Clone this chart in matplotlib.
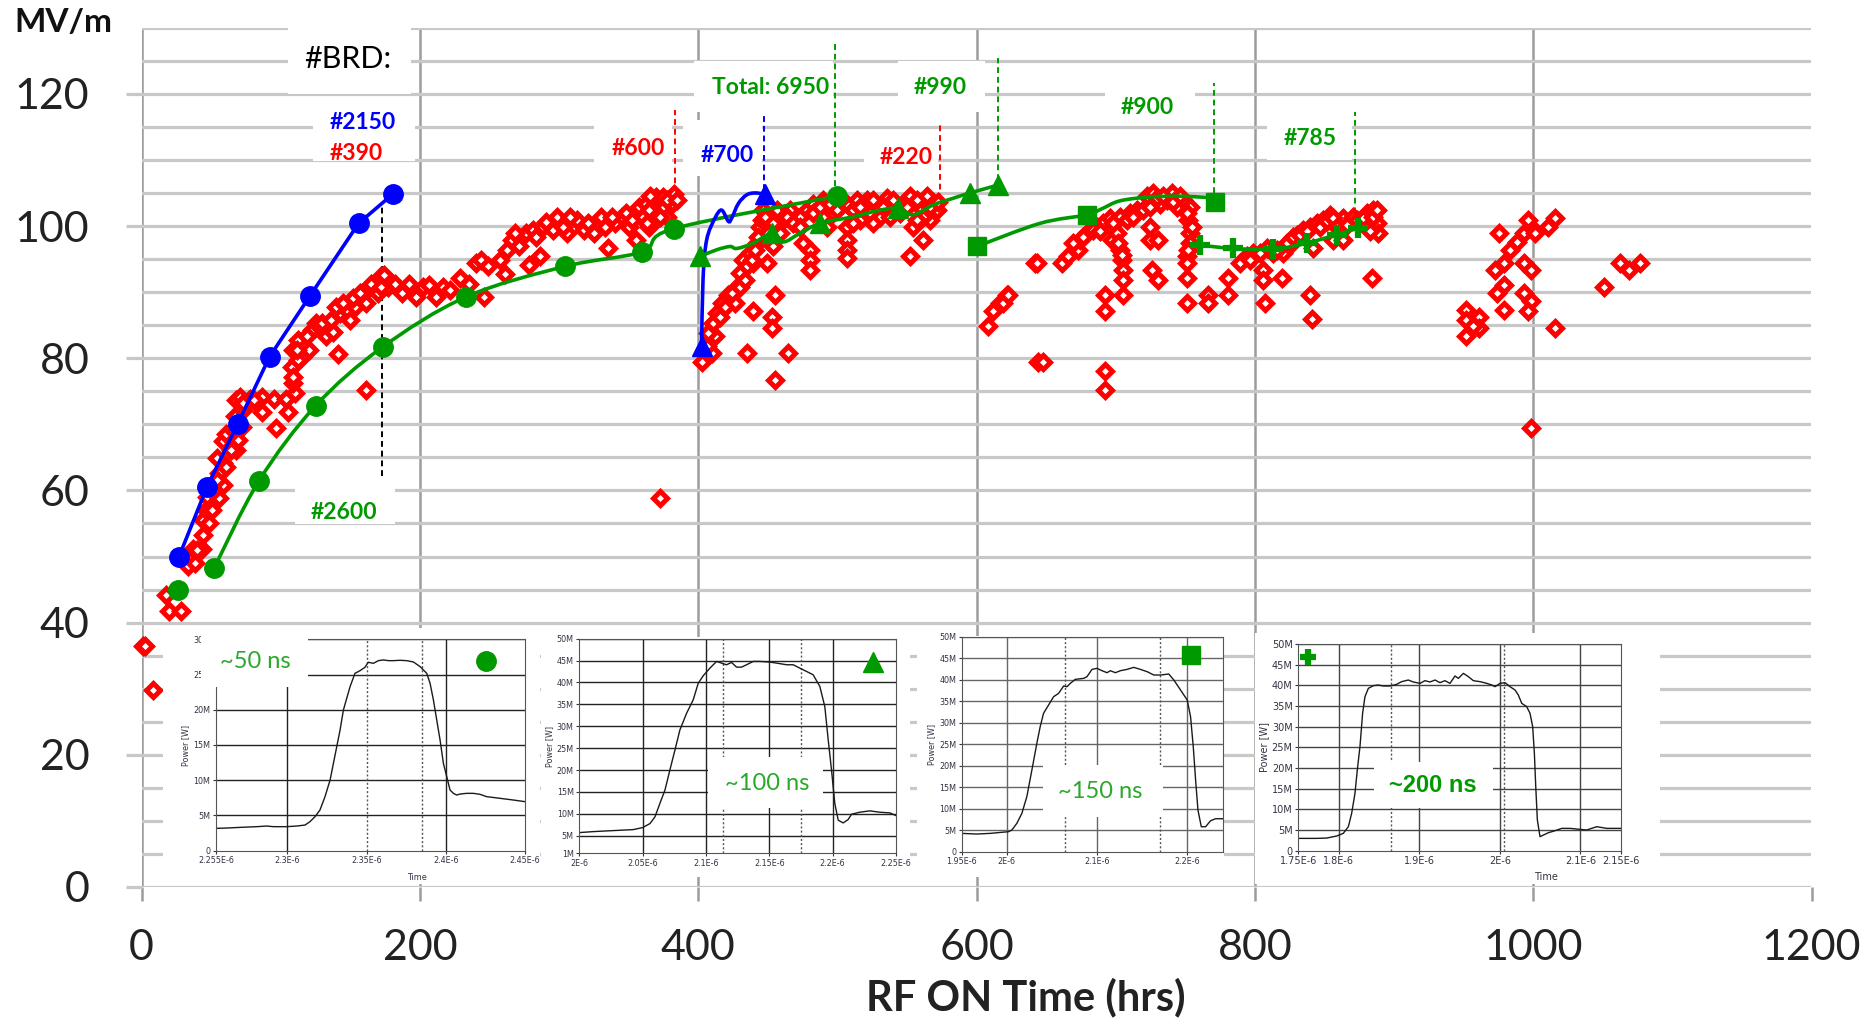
import numpy as np
import matplotlib.pyplot as plt
from matplotlib.path import Path
from matplotlib.patches import PathPatch, Rectangle
from matplotlib.ticker import MultipleLocator

W, H = 1865, 1031

RED = '#ff0000'
GREEN = '#009a00'
LGREEN = '#2aa82a'
BLUE = '#0000ff'

# ---------------- main chart data (RF ON hours, MV/m) ----------------
red_x = [1, 2.5, 8.5, 17.5, 19.5, 28.5, 33.5, 38.5, 37, 43.5, 44.5, 44.5, 46, 47, 55.8, 58.3, 55.8, 58.3,
         54.6, 58.3, 68.2, 69.4, 60.8, 67, 73.1, 68.2, 70.7, 78, 86.7, 86.7, 95.4, 96.6, 104, 105.3,
         110.3, 109, 107.8, 109, 112.7, 115.2, 120.1, 122.6, 127.6, 132.5, 137.5, 141.2, 142.4, 147.4,
         149.8, 153.5, 157.3, 162.2, 161, 167.2, 169.6, 172.1, 161, 177, 182, 187, 192, 197, 202,
         206.7, 211.7, 216.6, 221.6, 229, 235.2, 240.1, 243.8, 246.3, 248.8, 257.5, 261.2, 262.4,
         266.1, 271.1, 276, 278.5, 281, 286, 288.4, 295.8, 298.3, 305.7, 313.1, 318.1, 325.5, 330.4,
         335.4, 340.3, 345.3, 350.2, 355.2, 357.6, 362.6, 367.5, 370, 375, 381.2, 382.4, 372.5,
         39.7, 48.4, 50.9, 52.1, 54.6, 60.8, 64.5, 65.7, 71.9, 73.1, 80.6, 109, 112.7, 111.5, 118.9,
         125.1, 130, 136.2, 140, 145, 152.3, 157.3, 164.7, 172.1, 174.6,
         268.6, 283.4, 290.9, 303.2, 308.2, 320.5, 332.9, 337.9, 347.8, 352.7, 360.1, 365, 375,
         377.4, 365,
         365.4, 377.4, 384.5, 372.6, 363,
         402.5, 409.7, 412.1, 410.9, 413.3, 416.9, 421.7, 426.5, 427.7, 430, 432.4, 437.2, 439.6,
         442, 444.4, 446.8, 449.2, 451.6, 456.4, 461.2, 466, 458.8,
         434.8, 439.6, 452.8, 452.8, 455.2, 455.2, 464.8,
         473.2, 478, 482.7, 480.3, 480.3, 480.3, 489.9, 497.1, 506.7, 506.7, 506.7, 506.7, 506.7,
         511.5, 516.3, 521.1, 525.9, 530.6, 535.4, 540.2, 547.4, 552.2, 554.6, 559.4, 564.2, 566.6,
         561.8, 552.2, 569, 571.4, 501.9, 492.3, 513.9, 525.9, 540.2,
         608.5, 612.1, 616.9, 621.6, 642, 644.4,
         406.1, 407.3, 415.7, 419.3, 424.1, 430, 433.6, 434.8, 438.4, 440.8, 443.2, 445.6, 448,
         454, 463.6, 468.4, 454, 482.7, 487.5, 494.7, 499.5, 516.3, 523.4, 533, 537.8, 545, 549.8,
         557, 561.8, 566.6, 572.6, 557, 525.9, 511.5, 473.2, 475.6,
         619.3, 622.9, 643.2, 648, 661.2, 666, 673.2, 674.4, 679.2, 686.4, 691.1, 696, 703.1, 710.3,
         715.1, 722.3, 727.1, 731.9, 736.7, 740.2, 743.8, 748.6, 753.4, 752.2, 753.4,
         697.1, 703.1, 704.3, 705.5, 705.5, 705.5, 692.3, 692.3, 692.3, 692.3, 724.7, 730.7, 725.9,
         730.7, 724.7, 751, 751, 751, 751, 766.6, 766.6, 781, 781,
         669.6, 676.8, 684, 688.8, 698.3, 707.9, 712.7, 719.9, 724.7, 729.5, 734.3, 741.4, 746.2,
         751, 754.6, 700.7, 701.9, 704.3, 753.4, 752.2,
         789.3, 794.1, 798.9, 806.1, 806.1, 807.3, 808.5, 813.3, 819.3, 820.5, 825.3, 830.1, 834.9,
         839.6, 839.6, 840.8, 842, 844.4, 849.2, 854, 856.4, 863.6, 863.6, 870.8, 880.4, 885.1,
         887.5, 888.7, 882.8, 883.9,
         796.5, 803.7, 815.7, 822.9, 827.6, 832.5, 837.2, 846.8, 851.6, 856.4, 858.8, 866, 873.2,
         878, 885.1, 887.5,
         951.7, 951.7, 951.7, 961.3, 961.3, 956.5, 975.7, 972.5, 978.9, 983.7, 988.6, 993.4, 998.2,
         996.6, 1001.4, 1011, 1015.8, 974.1, 979, 979, 993.4, 998.2, 996.6, 993.4, 998.2, 1015.8,
         998.2, 1051.1, 1062.3, 1068.7, 1076.7]
red_y = [36.5, 36.4, 29.8, 44.2, 41.8, 41.8, 48.5, 49, 51.2, 51.2, 53.3, 55.5, 57, 59, 58.8, 60.8, 62.6, 64.1,
         64.9, 67.4, 66.1, 67.6, 68.6, 71.2, 72.2, 73.7, 74.2, 73.9, 74.2, 71.9, 73.9, 69.4, 73.9, 71.9,
         74.7, 76.2, 78.7, 81.2, 82.8, 80.2, 81.2, 84.3, 84.8, 83.3, 84, 80.7, 86.8, 87.3,
         85.8, 87.8, 89.3, 90.3, 88.3, 91.3, 89.8, 92.4, 75.2, 90.8, 91.3, 89.8, 91.3, 89.3, 90.8,
         91.1, 89.3, 90.8, 90.3, 92.1, 91.3, 94.4, 94.9, 89.3, 93.9, 94.9, 92.8, 96.4,
         97.9, 96.9, 98.9, 94.1, 99.4, 95.4, 99.9, 99.4, 101.4, 98.9, 100.9, 99.4, 98.9, 101.4,
         96.6, 100.4, 101.4, 99.9, 97.9, 102.9, 103.4, 100.9, 104.4, 104.4, 103.4, 104.9, 58.8,
         51, 55, 57, 60, 61.6, 63.6, 66.1, 69.1, 69.6, 73.2, 73.7, 77.2, 79.7, 81.2, 83.3,
         85.3, 85.3, 85.8, 87.8, 88.3, 89.1, 89.8, 91.3, 90.8, 92.6,
         98.9, 98.4, 100.6, 99.9, 101.4, 100.4, 99.9, 101.4, 101.9, 100.9, 101.4, 102.4, 102.7,
         101.4, 99.9,
         104.5, 103.9, 103.9, 101.4, 100.4,
         79.5, 80.8, 83.3, 85.3, 86.8, 88.3, 89.6, 88.3, 90.8, 92.9, 94.9, 95.9, 94.4,
         97.4, 99.9, 102.4, 94.4, 101.4, 102.4, 100.9, 102.4, 98.9,
         80.8, 87.1, 86.3, 84.5, 89.6, 76.7, 80.8,
         101.4, 102.4, 103.4, 96.4, 94.9, 93.4, 103.9, 101.9, 103.4, 99.9, 97.9, 96.4, 95.1,
         102.4, 100.9, 103.9, 102.4, 101.4, 104.2, 102.4, 103.4, 104.5, 99.9, 102.9, 104.5, 100.9,
         97.9, 95.4, 103.4, 102.4, 103.9, 99.9, 103.9, 103.9, 103.9,
         84.8, 87.1, 88.3, 89.6, 94.4, 79.5,
         81.8, 83.8, 86.3, 87.8, 89.8, 90.8, 91.8, 93.9, 94.9, 96.4, 98.4, 100.9, 101.4,
         100.4, 101.4, 100.4, 96.9, 101.9, 102.9, 103.4, 102.4, 102.9, 101.9, 102.9, 101.4, 101.9,
         102.9, 103.9, 101.4, 102.9, 103.7, 100.9, 100.4, 100.4, 99.9, 97.4,
         88.3, 89.6, 94.4, 79.5, 94.4, 95.4, 96.4, 97.9, 98.9, 99.9, 100.4, 101.2, 101.4, 101.9,
         102.4, 104.5, 105, 103.4, 103.9, 105, 102.9, 103.9, 102.9, 100.9, 98.9,
         97.9, 96.4, 94.9, 93.4, 91.8, 89.6, 89.6, 87.1, 78, 75.2, 97.9, 97.9, 93.4,
         91.8, 99.9, 95.4, 94.4, 92.1, 88.3, 89.6, 88.3, 92.1, 89.6,
         97.4, 98.4, 99.4, 99.2, 100.4, 100.9, 101.4, 102.4, 102.9, 104.2, 104.5, 103.7, 104.5,
         101.9, 99.9, 98.9, 97.4, 95.6, 97.4, 96.4,
         94.4, 95.4, 95.9, 93.4, 91.8, 88.3, 96.6, 95.9, 92.1, 95.9, 97.1, 98.7, 99.4,
         99.9, 89.6, 86, 96.6, 100.4, 100.9, 101.7, 97.9, 101.2, 97.9, 101.4, 101.9, 102.4,
         100.4, 98.9, 99.2, 92.1,
         94.9, 95.9, 96.4, 97.4, 98.4, 98.7, 99.2, 99.9, 100.7, 101.2, 99.9, 100.2, 100.9,
         101.2, 101.4, 102.4,
         87.3, 85.8, 83.3, 86.3, 84.5, 84.8, 98.9, 93.4, 94.4, 96.4, 97.6, 98.9, 99.9,
         100.9, 98.9, 99.9, 101.2, 89.8, 91.1, 87.3, 89.8, 88.6, 87.1, 94.4, 93.4, 84.5,
         69.4, 90.8, 94.4, 93.4, 94.4]

# 2150 breakdowns, circles (blue)
blue_c_x = [27, 47, 69, 92, 121, 156, 181]
blue_c_y = [50, 60.5, 70, 80.2, 89.4, 100.4, 104.9]

# 2600 breakdowns, circles (green)
green_c_x = [26.1, 52.1, 84.3, 125.1, 173.3, 233.5, 304.5, 359.6, 382.4, 499.5]
green_c_y = [44.9, 48.2, 61.4, 72.8, 81.7, 89.3, 93.9, 96.1, 99.6, 104.5]

# 700 breakdowns, triangles (blue), line has extra unmarked samples
blue_t_x = [402.5, 448]
blue_t_y = [81.8, 104.8]
blue_t_line_x = [402.5, 403.5, 406.1, 412.1, 416.9, 421.7, 424.1, 428.9, 434.8, 440.8, 448]
blue_t_line_y = [81.8, 92.0, 97.9, 101.2, 102.4, 100.7, 101.2, 103.4, 104.7, 105.0, 104.8]

# 990 breakdowns, triangles (green)
green_t_x = [401.3, 452.8, 487.5, 543.8, 595.3, 615.7]
green_t_y = [95.4, 98.9, 100.4, 102.7, 105.0, 106.2]
green_t_line_x = [401.3, 413.3, 422.9, 427.7, 439.6, 452.8, 461.2, 473.2, 487.5, 511.5, 530.6,
                  543.8, 554.6, 569, 583.3, 595.3, 615.7]
green_t_line_y = [95.4, 96.4, 96.9, 96.6, 97.4, 98.9, 97.6, 98.9, 100.4, 101.4, 102.4,
                  102.7, 101.7, 103.2, 104.2, 105.0, 106.2]

# 900 breakdowns, squares (green)
green_s_x = [600.1, 679.2, 771.4]
green_s_y = [96.9, 101.7, 103.7]
green_s_line_x = [600.1, 645.6, 679.2, 690, 703, 725, 750, 771.4]
green_s_line_y = [96.9, 100.4, 101.7, 102.6, 103.8, 104.4, 104.5, 104.2]

# 785 breakdowns, crosses (green)
green_p_x = [760.6, 784.5, 813.3, 837.2, 858.8, 874.4]
green_p_y = [97.1, 96.6, 96.5, 97.4, 98.7, 99.7]

# dashed markers: (x, y_from, y_to, colour)
dash_x = [173, 383.5, 447.5, 498.5, 574, 615.5, 770.5, 872.2]
dash_y0 = [62.2, 105.0, 105.5, 106.0, 102.5, 107.0, 105.0, 100.4]
dash_y1 = [103.6, 117.6, 117.1, 128.0, 115.3, 125.4, 121.6, 117.3]
dash_c = ['black', RED, BLUE, GREEN, RED, GREEN, GREEN, GREEN]

# ---------------- inset pulse traces (time 1e-6 s, power MW) ----------------
p1_t = [2.255, 2.2622, 2.2701, 2.2807, 2.287, 2.2912, 2.2996, 2.3059, 2.3112, 2.3143, 2.3175, 2.3206,
        2.3238, 2.327, 2.3291, 2.3312, 2.3333, 2.3354, 2.3375, 2.3396, 2.3427, 2.3459, 2.349, 2.3511,
        2.3543, 2.3575, 2.3606, 2.3638, 2.3669, 2.3711, 2.3753, 2.3796, 2.3838, 2.388, 2.3901, 2.3922,
        2.3943, 2.3964, 2.3985, 2.4006, 2.4027, 2.4048, 2.4069, 2.409, 2.4132, 2.4174, 2.4216, 2.4258,
        2.4343, 2.4427, 2.45]
p1_p = [3.17, 3.22, 3.31, 3.41, 3.5, 3.41, 3.41, 3.5, 3.64, 4.12, 4.83, 5.77,
        7.67, 10.03, 12.4, 14.76, 17.13, 19.97, 21.63, 23.28, 25.17, 25.55, 26.03, 26.74,
        26.59, 26.97, 27.07, 26.97, 26.97, 27.02, 26.97, 26.78, 26.12, 25.17, 23.75, 21.39,
        18.55, 15.71, 12.4, 10.51, 8.61, 8.14, 7.9, 8.04, 8.14, 8.14, 8.0, 7.67,
        7.43, 7.19, 6.96]

p2_t = [2.0, 2.011, 2.0216, 2.0321, 2.0426, 2.05, 2.0558, 2.0597, 2.0636, 2.0676, 2.0715, 2.0755,
        2.0794, 2.0847, 2.0899, 2.0939, 2.0978, 2.1031, 2.1084, 2.1123, 2.1162, 2.1202, 2.1241,
        2.1281, 2.132, 2.1373, 2.1425, 2.1504, 2.1557, 2.1636, 2.1688, 2.1741, 2.1794, 2.1846,
        2.1899, 2.1938, 2.1965, 2.1991, 2.2017, 2.2044, 2.2083, 2.2122, 2.2149, 2.2214, 2.2293,
        2.2372, 2.2451, 2.2499]
p2_p = [5.73, 5.95, 6.11, 6.26, 6.41, 6.87, 7.79, 9.31, 12.37, 15.42, 20.0, 24.58,
        29.16, 32.98, 36.03, 39.85, 41.53, 43.28, 44.81, 44.43, 44.05, 44.58, 43.51,
        43.51, 44.05, 44.81, 44.81, 44.66, 44.43, 44.05, 44.05, 43.28, 42.52, 41.76,
        39.08, 34.5, 26.87, 20.0, 12.37, 8.55, 7.94, 8.7, 9.92, 10.38, 10.69,
        10.38, 10.23, 9.62]

p3_t = [1.95, 1.9667, 1.9815, 2.0019, 2.0056, 2.0111, 2.0167, 2.0222, 2.0278, 2.0333, 2.037, 2.0407,
        2.0463, 2.0519, 2.0574, 2.063, 2.0667, 2.0704, 2.0759, 2.0852, 2.0889, 2.0944, 2.1, 2.1056,
        2.1111, 2.1148, 2.1204, 2.1259, 2.1333, 2.1407, 2.1481, 2.1556, 2.163, 2.1704, 2.1796,
        2.1852, 2.1926, 2.2, 2.2037, 2.2067, 2.2093, 2.2119, 2.2156, 2.2204, 2.2259, 2.2315, 2.2407]
p3_p = [4.26, 4.11, 4.26, 4.65, 5.04, 6.59, 8.91, 12.79, 18.99, 25.19, 29.07, 32.17,
        34.11, 36.05, 36.82, 38.53, 38.37, 39.15, 40.08, 40.31, 40.7, 42.4, 42.64, 42.09,
        41.63, 42.09, 41.63, 42.09, 42.4, 42.87, 42.4, 41.86, 41.09, 41.09, 41.32,
        39.92, 37.6, 35.27, 31.4, 24.42, 16.67, 9.69, 5.81, 5.81, 7.21, 7.67, 7.67]

p4_t = [1.75, 1.7728, 1.7852, 1.7976, 1.8058, 1.8121, 1.8162, 1.8203, 1.8232, 1.8265, 1.8298, 1.8327,
        1.8369, 1.8431, 1.8493, 1.8555, 1.8638, 1.872, 1.8782, 1.8865, 1.8927, 1.901, 1.9072, 1.9134,
        1.9196, 1.9258, 1.932, 1.9382, 1.9444, 1.9486, 1.9548, 1.961, 1.9672, 1.9755, 1.9838, 1.99,
        1.9941, 2.0003, 2.0065, 2.0127, 2.0189, 2.023, 2.0272, 2.0334, 2.0375, 2.0408, 2.0429,
        2.0446, 2.0466, 2.0499, 2.0541, 2.0603, 2.0686, 2.0768, 2.0872, 2.0996, 2.1078, 2.1202,
        2.1327, 2.15]
p4_p = [2.98, 2.98, 3.06, 3.55, 4.19, 5.81, 9.03, 13.87, 19.52, 25.16, 33.23, 37.26,
        39.27, 39.92, 40.08, 39.84, 39.84, 40.24, 40.89, 41.29, 40.81, 40.48, 41.13, 40.81,
        41.29, 40.65, 41.13, 40.48, 42.26, 41.69, 42.9, 42.1, 41.13, 40.89, 40.48, 40.08,
        39.68, 40.48, 40.65, 39.68, 38.87, 37.66, 35.65, 34.84, 33.23, 30.0, 23.55,
        15.48, 7.42, 3.39, 3.79, 4.35, 4.84, 5.4, 5.4, 5.16, 5.0, 5.81,
        5.4, 5.4]


def smooth_path(xs, ys):
    pts = np.column_stack([xs, ys]).astype(float)
    n = len(pts)
    verts = [pts[0]]
    codes = [Path.MOVETO]
    for i in range(n - 1):
        p0 = pts[max(i - 1, 0)]
        p1 = pts[i]
        p2 = pts[i + 1]
        p3 = pts[min(i + 2, n - 1)]
        verts += [p1 + (p2 - p0) / 6.0, p2 - (p3 - p1) / 6.0, p2]
        codes += [Path.CURVE4] * 3
    return Path(verts, codes)


def px_rect(x0, y0, x1, y1):
    return [x0 / W, 1 - y1 / H, (x1 - x0) / W, (y1 - y0) / H]


fig = plt.figure(figsize=(W / 100, H / 100), dpi=100)
fig.patch.set_facecolor('white')

ax = fig.add_axes(px_rect(141.5, 27.7, 1811.5, 887))
ax.set_xlim(0, 1200)
ax.set_ylim(0, 130)
ax.set_xticks(range(0, 1201, 200))
ax.set_yticks(range(0, 121, 20))
ax.yaxis.set_minor_locator(MultipleLocator(5))
ax.grid(True, axis='y', which='both', color='#c8c8c8', lw=2.3, zorder=0)
ax.grid(True, axis='x', which='major', color='#9c9c9c', lw=1.8, zorder=0)
ax.set_axisbelow(True)
for s in ax.spines.values():
    s.set_visible(False)
ax.tick_params(which='minor', length=0)
ax.tick_params(axis='y', which='major', length=11.5, width=2.3, color='#c8c8c8', pad=26,
               labelsize=31, labelcolor='#222222')
ax.tick_params(axis='x', which='major', length=10, width=1.8, color='#9c9c9c', pad=20,
               labelsize=31, labelcolor='#222222')
for lab in ax.get_xticklabels() + ax.get_yticklabels():
    lab.set_family(['Lato', 'DejaVu Sans'])

fig.text(14 / W, 1 - 23 / H, 'MV/m', fontsize=24, fontweight='bold', family=['Lato', 'DejaVu Sans'],
         va='center', ha='left', color='#111111')
fig.text(1026 / W, 1 - 997 / H, 'RF ON Time (hrs)', fontsize=30, fontweight='bold',
         family=['Lato', 'DejaVu Sans'], ha='center', va='center', color='#222222')

# white label boxes (x0, y0, x1, y1 in data units)
boxes = [(105.3, 120, 193.7, 130), (122.9, 109.8, 196.5, 116.3), (325, 108, 381, 116.5),
         (389, 107.5, 446, 116), (397, 117.3, 497, 124.9), (543.4, 117.3, 606, 124.9),
         (519, 107, 572, 113.5), (692, 116, 757, 121.5), (809, 110, 870, 117.3),
         (110, 54.9, 182, 61)]
for b in boxes:
    ax.add_patch(Rectangle((b[0], b[1]), b[2] - b[0], b[3] - b[1], facecolor='white',
                           edgecolor='none', zorder=1))

ax.vlines(dash_x, dash_y0, dash_y1, colors=dash_c, linestyles=(0, (3, 2)), lw=1.4, zorder=2)

ax.plot(red_x, red_y, ls='none', marker='D', ms=7.6, mfc='white', mec=RED, mew=3.6,
        zorder=3, clip_on=False)

ax.plot(blue_c_x, blue_c_y, '-o', color=BLUE, lw=2.6, ms=14, zorder=6)

ax.add_patch(PathPatch(smooth_path(green_c_x[1:], green_c_y[1:]), fill=False, ec=GREEN, lw=2.6, zorder=5))
ax.plot(green_c_x, green_c_y, 'o', color=GREEN, ms=14, zorder=6)

ax.add_patch(PathPatch(smooth_path(blue_t_line_x, blue_t_line_y), fill=False, ec=BLUE, lw=2.6, zorder=5))
ax.plot(blue_t_x, blue_t_y, '^', color=BLUE, ms=14, zorder=6)

ax.add_patch(PathPatch(smooth_path(green_t_line_x, green_t_line_y), fill=False, ec=GREEN, lw=2.6, zorder=5))
ax.plot(green_t_x, green_t_y, '^', color=GREEN, ms=14, zorder=6)

ax.add_patch(PathPatch(smooth_path(green_s_line_x, green_s_line_y), fill=False, ec=GREEN, lw=2.6, zorder=5))
ax.plot(green_s_x, green_s_y, 's', color=GREEN, ms=13, zorder=6)

ax.add_patch(PathPatch(smooth_path(green_p_x, green_p_y), fill=False, ec=GREEN, lw=2.6, zorder=5))
ax.plot(green_p_x, green_p_y, '+', color=GREEN, ms=15, mew=4.5, zorder=6)

lab_font = ['Lato', 'DejaVu Sans']
ax.text(148.5, 125.3, '#BRD:', fontsize=22, color='black', ha='center', va='center', family=lab_font, zorder=7)
notes = [(158.8, 115.6, '#2150', BLUE), (154, 111, '#390', RED), (357, 111.7, '#600', RED),
         (421, 110.6, '#700', BLUE), (452, 120.9, 'Total: 6950', GREEN), (573.8, 120.9, '#990', GREEN),
         (549.8, 110.4, '#220', RED), (723, 118, '#900', GREEN), (840, 113.3, '#785', GREEN),
         (145.3, 56.6, '#2600', GREEN)]
for x, y, s, c in notes:
    ax.text(x, y, s, fontsize=16.5, fontweight='bold', color=c, ha='center', va='center',
            family=lab_font, zorder=7)

# ---------------- insets ----------------
outer = [(163, 628, 540, 884), (541, 637, 910, 877), (917, 636, 1224, 877), (1255, 633, 1660, 884)]
for o in outer:
    fig.add_artist(Rectangle((o[0] / W, 1 - o[3] / H), (o[2] - o[0]) / W, (o[3] - o[1]) / H,
                             transform=fig.transFigure, facecolor='white', edgecolor='none', zorder=2))

insets = [
    dict(rect=(216, 639.3, 525, 850.7), xlim=(2.255, 2.45), ylim=(0, 30), t=p1_t, p=p1_p,
         xt=[2.255, 2.3, 2.35, 2.4, 2.45], xl=['2.255E-6', '2.3E-6', '2.35E-6', '2.4E-6', '2.45E-6'],
         yt=[0, 5, 10, 15, 20, 25, 30], vg=[2.3, 2.4], cur=[2.35, 2.385], gc='#222222',
         box=(-0.05, 0.773, 0.299, 1.05), txt='~50 ns', tpos=(0.126, 0.894), bold=False,
         mk=('o', 14, (0.874, 0.897)), fs=5.8),
    dict(rect=(579.3, 638.7, 896, 853.3), xlim=(2.0, 2.25), ylim=(1, 50), t=p2_t, p=p2_p,
         xt=[2.0, 2.05, 2.1, 2.15, 2.2, 2.25], xl=['2E-6', '2.05E-6', '2.1E-6', '2.15E-6', '2.2E-6', '2.25E-6'],
         yt=[1, 5, 10, 15, 20, 25, 30, 35, 40, 45, 50], vg=[2.05, 2.1, 2.15, 2.2], cur=[2.1137, 2.175],
         gc='#222222', box=(0.407, 0.21, 0.771, 0.45), txt='~100 ns', tpos=(0.592, 0.323), bold=False,
         mk=('^', 14, (0.928, 0.893)), fs=5.8),
    dict(rect=(961.7, 636.7, 1223.3, 851.7), xlim=(1.95, 2.24), ylim=(0, 50), t=p3_t, p=p3_p,
         xt=[1.95, 2.0, 2.1, 2.2], xl=['1.95E-6', '2E-6', '2.1E-6', '2.2E-6'],
         yt=[0, 5, 10, 15, 20, 25, 30, 35, 40, 45, 50], vg=[2.0, 2.1, 2.2], cur=[2.064, 2.17],
         gc='#666666', box=(0.312, 0.163, 0.771, 0.403), txt='~150 ns', tpos=(0.529, 0.279), bold=False,
         mk=('s', 13, (0.876, 0.915)), fs=5.8),
    dict(rect=(1298.3, 644, 1620.7, 850.7), xlim=(1.75, 2.15), ylim=(0, 50), t=p4_t, p=p4_p,
         xt=[1.75, 1.8, 1.9, 2.0, 2.1, 2.15], xl=['1.75E-6', '1.8E-6', '1.9E-6', '2E-6', '2.1E-6', '2.15E-6'],
         yt=[0, 5, 10, 15, 20, 25, 30, 35, 40, 45, 50], vg=[1.8, 1.9, 2.0, 2.1], cur=[1.865, 2.005],
         gc='#444444', box=(0.235, 0.205, 0.605, 0.431), txt='~200 ns', tpos=(0.417, 0.315), bold=True,
         mk=('+', 12, (0.031, 0.939)), fs=7),
]

for d in insets:
    x0, y0, x1, y1 = d['rect']
    ia = fig.add_axes(px_rect(x0, y0, x1, y1))
    ia.set_zorder(3)
    ia.set_facecolor('white')
    ia.set_xlim(*d['xlim'])
    ia.set_ylim(*d['ylim'])
    ia.set_xticks(d['xt'])
    ia.set_xticklabels(d['xl'])
    ia.set_yticks(d['yt'])
    ia.set_yticklabels(['0' if v == 0 else '%dM' % v for v in d['yt']])
    ia.tick_params(labelsize=d['fs'], length=2.5, width=0.8, pad=1.5, colors='#333344')
    for s in ia.spines.values():
        s.set_color('#555555')
        s.set_linewidth(0.8)
    for v in d['vg']:
        ia.axvline(v, color=d['gc'], lw=1.0, zorder=1)
    for v in d['yt'][1:]:
        ia.axhline(v, color=d['gc'], lw=1.0, zorder=1)
    for v in d['cur']:
        ia.axvline(v, color='#555555', lw=1.0, ls=(0, (1.5, 1.5)), zorder=1.5)
    ia.plot(d['t'], d['p'], color='#1a1a1a', lw=1.0, zorder=2)
    ia.set_ylabel('Power [W]', fontsize=d['fs'], color='#333344', labelpad=2)
    bx = d['box']
    ia.add_patch(Rectangle((bx[0], bx[1]), bx[2] - bx[0], bx[3] - bx[1], transform=ia.transAxes,
                           facecolor='white', edgecolor='none', zorder=5, clip_on=False))
    if d['bold']:
        ia.text(*d['tpos'], d['txt'], transform=ia.transAxes, fontsize=17, fontweight='bold',
                color=GREEN, ha='center', va='center', family=['Liberation Sans', 'DejaVu Sans'], zorder=6)
    else:
        ia.text(*d['tpos'], d['txt'], transform=ia.transAxes, fontsize=17, color=LGREEN,
                ha='center', va='center', family=['Lato', 'DejaVu Sans'], zorder=6)
    m, ms, pos = d['mk']
    if m == '+':
        ia.plot([pos[0]], [pos[1]], m, color=GREEN, ms=ms, mew=4.5, transform=ia.transAxes,
                zorder=6, clip_on=False)
    else:
        ia.plot([pos[0]], [pos[1]], m, color=GREEN, ms=ms, transform=ia.transAxes, zorder=6,
                clip_on=False)

fig.text(416.7 / W, 1 - 878 / H, 'Time', fontsize=5.8, color='#333344', ha='center', va='center', zorder=4)
fig.text(1546 / W, 1 - 877 / H, 'Time', fontsize=7, color='#333344', ha='center', va='center', zorder=4)

fig.savefig('out.png', dpi=100, facecolor='white')
